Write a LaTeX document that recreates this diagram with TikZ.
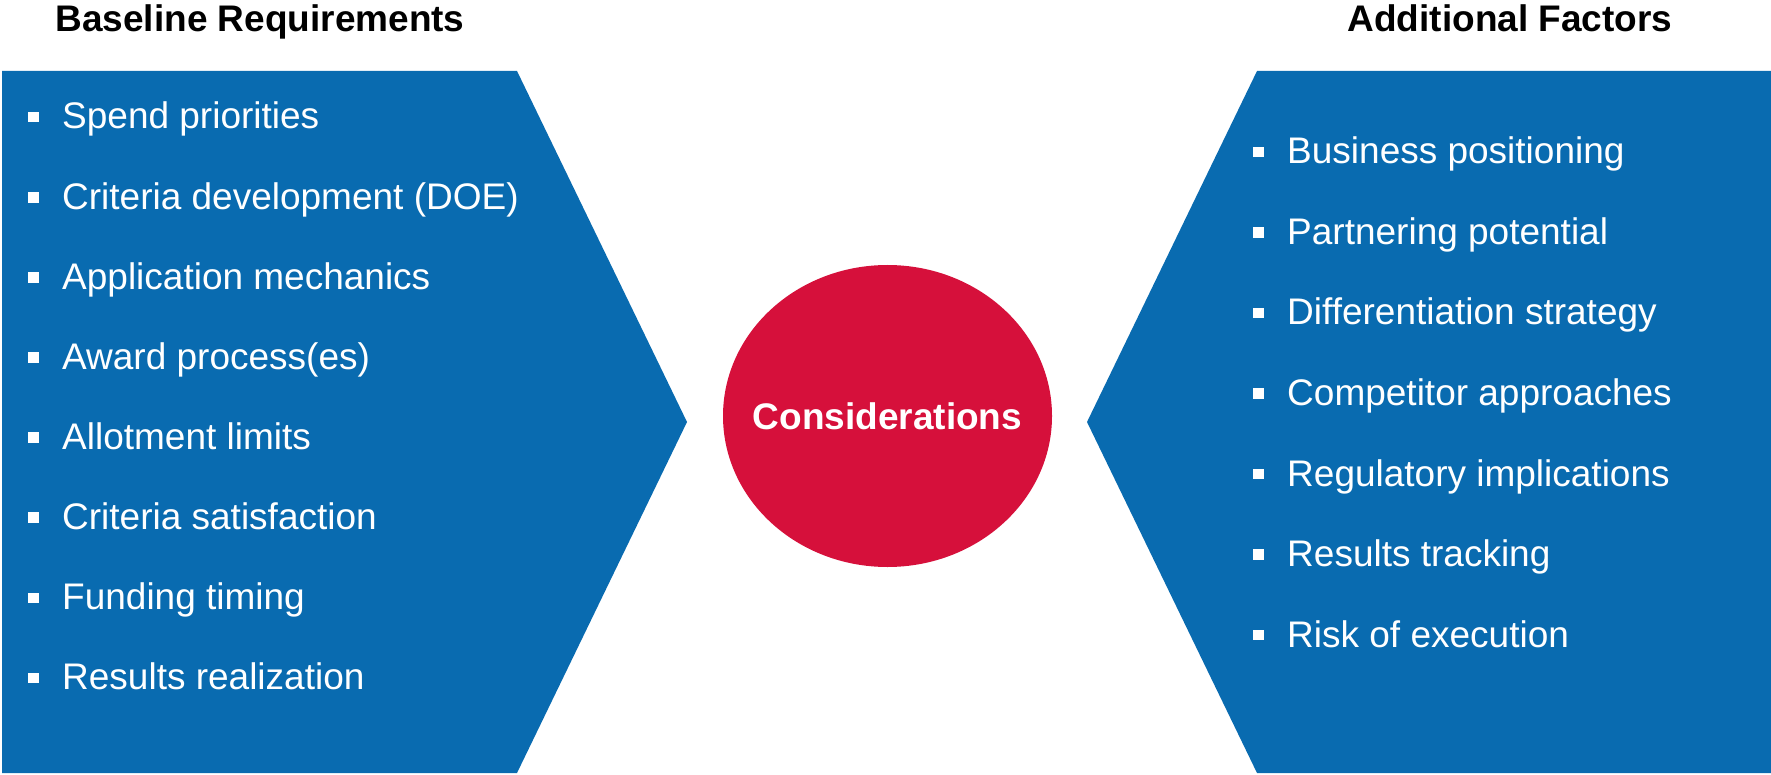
\documentclass[tikz,border=0pt]{standalone}
\usepackage{fontspec}
\setmainfont{Liberation Sans}
\usetikzlibrary{shapes.geometric}
\definecolor{panelblue}{RGB}{9,107,176}
\definecolor{hubred}{RGB}{214,16,59}
\newcommand\bigtxt{\fontsize{37}{44}\selectfont}
\tikzset{
  panel/.style={fill=panelblue},
  header/.style={anchor=base, inner sep=0pt, text=black, font=\bigtxt\bfseries},
  item/.style={anchor=base west, inner sep=0pt, text=white, font=\bigtxt},
  bul/.style={fill=white, inner sep=0pt, minimum size=10.5pt, draw=none, rectangle},
  hub/.style={ellipse, fill=hubred, minimum width=329pt, minimum height=302pt, inner sep=0pt, text=white, font=\bigtxt\bfseries}
}
\begin{document}
\begin{tikzpicture}[x=1pt,y=-1pt]
\useasboundingbox (0,0) rectangle (1771,775);
\fill[white] (0,0) rectangle (1771,775);
% panels
\fill[panel] (2,71) -- (517,71) -- (687,422) -- (517,773) -- (2,773) -- cycle;
\fill[panel] (1771,71) -- (1257,71) -- (1087,422) -- (1257,773) -- (1771,773) -- cycle;
% headers
\node[header] (hl) at (260,32) {Baseline Requirements};
\node[header] (hr) at (1510,32) {Additional Factors};
% hub
\node[hub] (cons) at (887.5,416) {\makebox[0pt][c]{Considerations}};
% left list
\foreach \t [count=\i] in {Spend priorities, Criteria development (DOE), Application mechanics, Award process(es), Allotment limits, Criteria satisfaction, Funding timing, Results realization}{
  \pgfmathsetmacro\yb{129+(\i-1)*80.1}
  \node[item] (L\i) at (62,\yb) {\t};
  \node[bul] (LB\i) at (33.5,\yb-11.8) {};
}
% right list
\foreach \t [count=\i] in {Business positioning, Partnering potential, Differentiation strategy, Competitor approaches, Regulatory implications, Results tracking, Risk of execution}{
  \pgfmathsetmacro\yb{164+(\i-1)*80.5}
  \node[item] (R\i) at (1287,\yb) {\t};
  \node[bul] (RB\i) at (1258.5,\yb-11.8) {};
}
\end{tikzpicture}
\end{document}
